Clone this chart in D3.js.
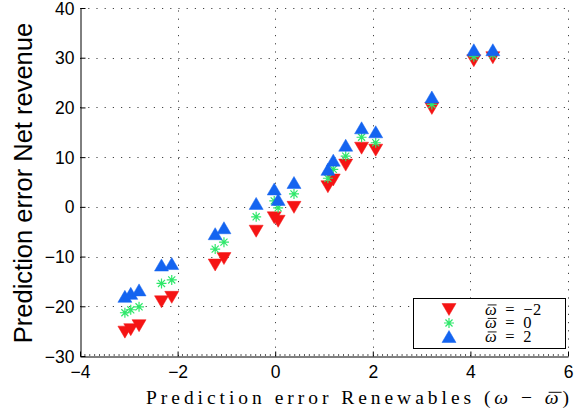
<!DOCTYPE html>
<html>
<head>
<meta charset="utf-8">
<script src="https://cdn.jsdelivr.net/npm/d3@7/dist/d3.min.js"></script>
<style>
  body { margin: 0; background: #fff; }
  svg { display: block; }
</style>
</head>
<body>
<svg id="chart" width="574" height="418"></svg>
<script>
// Prediction error of renewables (shared by all three series)
const xValues = [-3.08, -2.96, -2.79, -2.33, -2.12, -1.23, -1.05, -0.39, -0.02, 0.06, 0.385,
                 1.08, 1.19, 1.445, 1.77, 2.06, 3.21, 4.07, 4.46];
// Prediction error of net revenue for each mean forecast
const revenueNeg2 = [-25.2, -24.7, -23.9, -19.1, -18.2, -11.7, -10.4, -4.9, -2.2, -2.9, -0.1,
                     4.05, 5.4, 8.4, 11.8, 11.4, 19.8, 29.4, 30.0];
const revenue0    = [-21.3, -20.7, -20.1, -15.4, -14.7, -8.5, -7.1, -2.0, 1.2, -0.2, 2.6,
                     5.75, 7.55, 10.2, 14.0, 12.9, 20.6, 30.2, 30.6];
const revenue2    = [-18.0, -17.4, -16.7, -11.7, -11.4, -5.4, -4.2, 0.7, 3.6, 1.5, 4.9,
                     7.55, 9.4, 12.4, 15.9, 15.1, 22.1, 31.6, 31.6];
const xTicks = [-4, -2, 0, 2, 4, 6];
const yTicks = [-30, -20, -10, 0, 10, 20, 30, 40];
const legendValues = ["\u22122", "0", "2"];

const W = 574, H = 418;
const margin = { left: 80, top: 8, right: 6, bottom: 62 };
const svg = d3.select("#chart");

const x = d3.scaleLinear().domain([-4, 6]).range([margin.left, W - margin.right]);
const y = d3.scaleLinear().domain([-30, 40]).range([H - margin.bottom, margin.top]);

const sansFont = "'Liberation Sans', Arial, Helvetica, sans-serif";
const serifFont = "'Liberation Serif', 'DejaVu Serif', serif";
const fmt = d => (d < 0 ? "\u2212" + Math.abs(d) : String(d));

// dotted grid
const grid = svg.append("g").attr("stroke", "#444").attr("stroke-width", 1)
  .attr("stroke-dasharray", "1.2,7").attr("fill", "none");
grid.selectAll("line.gx").data(xTicks.filter(d => d > -4)).join("line")
  .attr("x1", d => Math.round(x(d)) + 0.5).attr("x2", d => Math.round(x(d)) + 0.5)
  .attr("y1", y(-30)).attr("y2", y(40));
grid.selectAll("line.gy").data(yTicks.filter(d => d > -30)).join("line")
  .attr("y1", d => Math.round(y(d)) + 0.5).attr("y2", d => Math.round(y(d)) + 0.5)
  .attr("x1", x(-4)).attr("x2", x(6));

// axes
const xAxis = d3.axisBottom(x).tickValues(xTicks).tickSizeInner(-5).tickSizeOuter(0).tickFormat(fmt);
const yAxis = d3.axisLeft(y).tickValues(yTicks).tickSizeInner(-5).tickSizeOuter(0).tickFormat(fmt);

const gx = svg.append("g").attr("transform", `translate(0,${Math.round(y(-30)) + 0.5})`).call(xAxis);
const gy = svg.append("g").attr("transform", `translate(${Math.round(x(-4)) + 0.5},0)`).call(yAxis);

[gx, gy].forEach(g => {
  g.select(".domain").attr("stroke", "#000").attr("stroke-width", 1);
  g.selectAll(".tick line").attr("stroke", "#000");
  g.selectAll(".tick text").attr("font-family", sansFont).attr("font-size", 17.5).attr("fill", "#000");
});
gx.selectAll(".tick text").attr("y", 9).attr("dy", "0.71em");
gy.selectAll(".tick text").attr("x", -6).attr("dy", "0.35em");

// minor ticks along the x axis
const minor = d3.range(-40, 61).map(d => d / 10).filter(d => !xTicks.includes(d));
svg.append("g").attr("stroke", "#333").attr("stroke-width", 0.8)
  .selectAll("line").data(minor).join("line")
  .attr("x1", d => x(d)).attr("x2", d => x(d))
  .attr("y1", Math.round(y(-30))).attr("y2", Math.round(y(-30)) - 2);

// axis titles
svg.append("text")
  .attr("transform", `translate(32,${(y(-30) + y(40)) / 2 + 1}) rotate(-90)`)
  .attr("text-anchor", "middle")
  .attr("font-family", sansFont).attr("font-size", 25.5).attr("fill", "#000")
  .text("Prediction error Net revenue");

// draws a bar over the character at index idx of a text node (for the mean symbol)
function overbar(textSel, idx, lift) {
  const node = textSel.node();
  const ext = node.getExtentOfChar(idx);
  const baseY = +textSel.attr("y");
  const fs = +textSel.attr("font-size");
  textSel.select(function () { return this.parentNode; }).append("line")
    .attr("x1", ext.x + ext.width * 0.22).attr("x2", ext.x + ext.width * 0.95)
    .attr("y1", baseY - fs * lift).attr("y2", baseY - fs * lift)
    .attr("stroke", "#000").attr("stroke-width", Math.max(0.9, fs * 0.05));
}

const xTitle = svg.append("g");
const xt = xTitle.append("text")
  .attr("x", 146).attr("y", 404)
  .attr("font-family", serifFont).attr("font-size", 19.5).attr("fill", "#000");
xt.append("tspan").text("Prediction error Renewables (");
xt.append("tspan").attr("font-style", "italic").text("\u03c9");
xt.append("tspan").text(" \u2212 ");
xt.append("tspan").attr("font-style", "italic").text("\u03c9");
xt.append("tspan").text(")");
{
  const nChars = xt.node().getNumberOfChars();
  const natural = xt.node().getComputedTextLength();
  const spacing = (423 - natural) / (nChars - 1);
  xt.attr("letter-spacing", spacing);
  overbar(xt, nChars - 2, 0.6);
}

// marker shapes
const colors = { neg2: "#f51414", zero: "#2ee86a", pos2: "#1464f0" };
const triDown = "M-7,-6L7,-6L0,6Z";
const triUp = "M0,-6L7,6L-7,6Z";
const asterisk = (() => {
  const r = 5, d = r * Math.SQRT1_2;
  return `M${-r},0L${r},0M0,${-r}L0,${r}M${-d},${-d}L${d},${d}M${-d},${d}L${d},${-d}`;
})();

const series = [
  { key: "neg2", values: revenueNeg2, path: triDown, filled: true },
  { key: "zero", values: revenue0, path: asterisk, filled: false },
  { key: "pos2", values: revenue2, path: triUp, filled: true }
];

const plot = svg.append("g");
series.forEach(s => {
  plot.append("g").selectAll("path").data(xValues.map((xv, i) => [xv, s.values[i]])).join("path")
    .attr("transform", d => `translate(${x(d[0])},${y(d[1])})`)
    .attr("d", s.path)
    .attr("fill", s.filled ? colors[s.key] : "none")
    .attr("stroke", colors[s.key])
    .attr("stroke-width", s.filled ? 0.5 : 1.2)
    .attr("stroke-linejoin", "miter");
});

// legend
const lg = svg.append("g");
lg.append("rect").attr("x", 413.5).attr("y", 298.5).attr("width", 152).attr("height", 50)
  .attr("fill", "#fff").attr("stroke", "#000").attr("stroke-width", 1);
const legendRows = [309.5, 323, 336.5];
series.forEach((s, i) => {
  lg.append("path")
    .attr("transform", `translate(449,${legendRows[i]})`)
    .attr("d", s.path)
    .attr("fill", s.filled ? colors[s.key] : "none")
    .attr("stroke", colors[s.key])
    .attr("stroke-width", s.filled ? 0.5 : 1.2);
  const row = lg.append("g");
  const t = row.append("text").attr("x", 485).attr("y", legendRows[i] + 5)
    .attr("font-family", serifFont).attr("font-size", 16.5).attr("fill", "#000")
    .attr("letter-spacing", 0.5).attr("word-spacing", 3.5);
  t.append("tspan").attr("font-style", "italic").text("\u03c9");
  t.append("tspan").text(" = " + legendValues[i]);
  overbar(t, 0, 0.58);
});
</script>
</body>
</html>
